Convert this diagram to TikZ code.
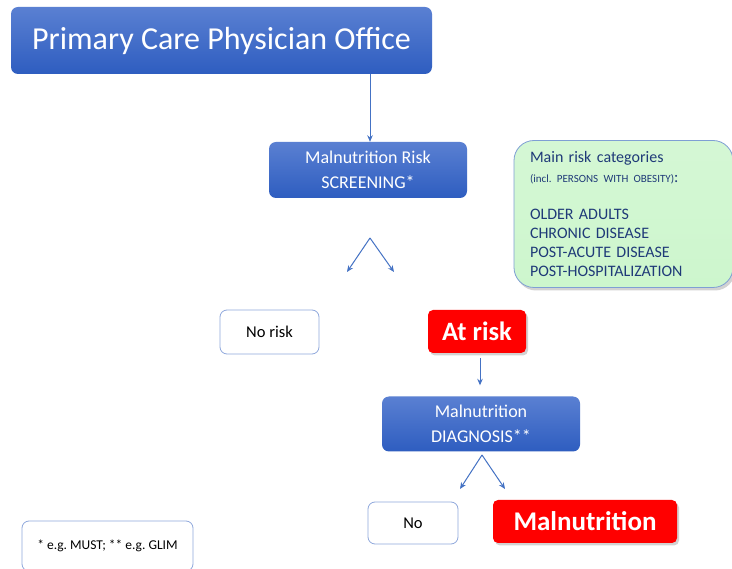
\documentclass[tikz,border=0pt]{standalone}
\usepackage{fontspec}
\setmainfont{Carlito}
\usetikzlibrary{arrows.meta,shadows}
\definecolor{bluetop}{HTML}{5A80D2}
\definecolor{bluebot}{HTML}{2E5DC0}
\definecolor{arrowblue}{HTML}{4472C4}
\definecolor{greenfill}{HTML}{CDF6CD}
\definecolor{greenedge}{HTML}{7F9FD4}
\definecolor{navy}{HTML}{1F3A78}
\definecolor{paleedge}{HTML}{8FA8DC}
\tikzset{
  bluebox/.style={rectangle, rounded corners=7pt, inner sep=0pt, top color=bluetop, bottom color=bluebot, draw=none, text=white, align=center},
  whitebox/.style={rectangle, rounded corners=7pt, inner sep=0pt, fill=white, draw=paleedge, line width=0.8pt, text=black, align=center},
  redbox/.style={rectangle, rounded corners=5pt, inner sep=0pt, fill=red, draw=none, text=white, font=\bfseries, drop shadow={shadow xshift=2pt, shadow yshift=-2.5pt, opacity=0.35}},
  greenbox/.style={rectangle, rounded corners=20pt, inner xsep=16pt, inner ysep=0pt, top color=greenfill!85!white, bottom color=greenfill, draw=greenedge, line width=0.8pt, text=navy, align=left, drop shadow={shadow xshift=2pt, shadow yshift=-3pt, opacity=0.35}},
  flow/.style={draw=arrowblue, line width=1pt, -{Stealth[length=6.5pt,width=5.5pt]}}
}
\begin{document}
\begin{tikzpicture}[x=1pt,y=-1pt]
\useasboundingbox (0,0) rectangle (732,569);
\fill[white] (0,0) rectangle (732,569);

\node[bluebox, minimum width=421pt, minimum height=67pt, font=\fontsize{32}{36}\selectfont] (office) at (221.5,40.5) {Primary Care Physician Office};

\node[bluebox, minimum width=198pt, minimum height=56pt, font=\fontsize{18}{25}\selectfont] (screen) at (368,170) {Malnutrition Risk\\SCREENING*};

\node[greenbox, minimum width=219pt, minimum height=147pt, text width=187pt, font=\fontsize{16}{19}\selectfont] (cats) at (623.5,214) {Main risk categories\\[1pt]{\fontsize{11}{13}\selectfont\frenchspacing (incl.\ PERSONS WITH OBESITY)}:\\[18pt]OLDER ADULTS\\CHRONIC DISEASE\\POST-ACUTE DISEASE\\POST-HOSPITALIZATION};

\coordinate (s1) at (370,238);
\coordinate (s1l) at (347,272);
\coordinate (s1r) at (394,272);

\node[whitebox, minimum width=99pt, minimum height=44pt, font=\fontsize{16.5}{18}\selectfont] (norisk) at (269.5,332) {No risk};
\node[redbox, minimum width=98pt, minimum height=43pt, font=\fontsize{26.5}{28}\selectfont\bfseries] (atrisk) at (477,331.5) {At risk};

\node[bluebox, minimum width=198pt, minimum height=55pt, font=\fontsize{18}{25}\selectfont] (diag) at (481,424) {Malnutrition\\DIAGNOSIS**};

\coordinate (s2) at (482,455);
\coordinate (s2l) at (460,489);
\coordinate (s2r) at (505,489);

\node[whitebox, minimum width=90pt, minimum height=42pt, font=\fontsize{16.5}{18}\selectfont] (no) at (413,523) {No};
\node[redbox, minimum width=184pt, minimum height=43pt, font=\fontsize{27}{30}\selectfont\bfseries] (maln) at (585,521.5) {Malnutrition};

\node[whitebox, minimum width=171pt, minimum height=50pt, font=\fontsize{13.5}{16}\selectfont] (foot) at (107.5,546) {\frenchspacing * e.g.\ MUST; ** e.g.\ GLIM};

\draw[flow] (office.south -| screen.north) ++(2pt,0) coordinate (o1) -- (o1 |- screen.north);
\draw[flow] ([xshift=3pt,yshift=-5pt]atrisk.south) -- ([xshift=-1pt,yshift=11pt]diag.north);
\draw[flow] (s1) -- (s1l);
\draw[flow] (s1) -- (s1r);
\draw[flow] (s2) -- (s2l);
\draw[flow] (s2) -- (s2r);
\end{tikzpicture}
\end{document}
